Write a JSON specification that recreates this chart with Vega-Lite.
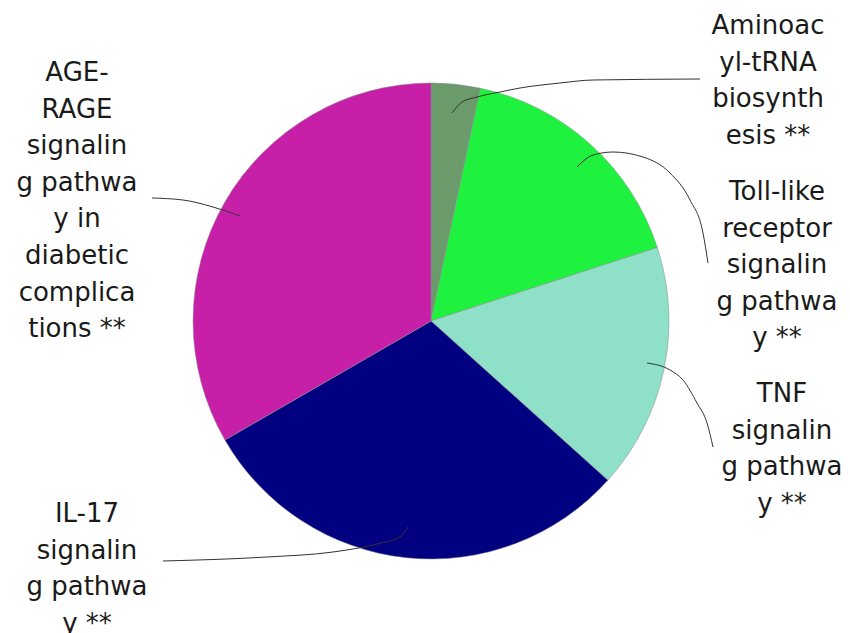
{
  "$schema": "https://vega.github.io/schema/vega-lite/v6.json",
  "width": 838,
  "height": 624,
  "padding": {"left": 12, "top": 9, "right": 0, "bottom": 0},
  "autosize": {"type": "none"},
  "background": "white",
  "config": {"view": {"stroke": null}},
  "datasets": {
    "slices": [
      {"pathway": "Aminoacyl-tRNA biosynthesis", "count": 1, "order": 1},
      {"pathway": "Toll-like receptor signaling pathway", "count": 5, "order": 2},
      {"pathway": "TNF signaling pathway", "count": 5, "order": 3},
      {"pathway": "IL-17 signaling pathway", "count": 9, "order": 4},
      {"pathway": "AGE-RAGE signaling pathway in diabetic complications", "count": 10, "order": 5}
    ],
    "labels": [
      {"pathway": "Aminoacyl-tRNA biosynthesis", "label": "Aminoac\nyl-tRNA\nbiosynth\nesis **", "lx": 337, "ly": -295},
      {"pathway": "Toll-like receptor signaling pathway", "label": "Toll-like\nreceptor\nsignalin\ng pathwa\ny **", "lx": 346, "ly": -129},
      {"pathway": "TNF signaling pathway", "label": "TNF\nsignalin\ng pathwa\ny **", "lx": 351, "ly": 73},
      {"pathway": "IL-17 signaling pathway", "label": "IL-17\nsignalin\ng pathwa\ny **", "lx": -344, "ly": 193},
      {"pathway": "AGE-RAGE signaling pathway in diabetic complications", "label": "AGE-\nRAGE\nsignalin\ng pathwa\ny in\ndiabetic\ncomplica\ntions **", "lx": -354, "ly": -248}
    ],
    "leaders": [
      {"pathway": "AGE-RAGE", "step": 1, "px": -279, "py": -123},
      {"pathway": "AGE-RAGE", "step": 2, "px": -248, "py": -121},
      {"pathway": "AGE-RAGE", "step": 3, "px": -218, "py": -114},
      {"pathway": "AGE-RAGE", "step": 4, "px": -191, "py": -105},
      {"pathway": "Aminoacyl", "step": 1, "px": 21, "py": -208},
      {"pathway": "Aminoacyl", "step": 2, "px": 31, "py": -219},
      {"pathway": "Aminoacyl", "step": 3, "px": 46, "py": -224},
      {"pathway": "Aminoacyl", "step": 4, "px": 69, "py": -229},
      {"pathway": "Aminoacyl", "step": 5, "px": 89, "py": -233},
      {"pathway": "Aminoacyl", "step": 6, "px": 129, "py": -238},
      {"pathway": "Aminoacyl", "step": 7, "px": 162, "py": -241},
      {"pathway": "Aminoacyl", "step": 8, "px": 269, "py": -242},
      {"pathway": "Toll", "step": 1, "px": 146, "py": -154},
      {"pathway": "Toll", "step": 2, "px": 162, "py": -166},
      {"pathway": "Toll", "step": 3, "px": 182, "py": -169},
      {"pathway": "Toll", "step": 4, "px": 212, "py": -164},
      {"pathway": "Toll", "step": 5, "px": 239, "py": -148},
      {"pathway": "Toll", "step": 6, "px": 259, "py": -121},
      {"pathway": "Toll", "step": 7, "px": 272, "py": -88},
      {"pathway": "Toll", "step": 8, "px": 277, "py": -58},
      {"pathway": "TNF", "step": 1, "px": 216, "py": 42},
      {"pathway": "TNF", "step": 2, "px": 239, "py": 49},
      {"pathway": "TNF", "step": 3, "px": 252, "py": 59},
      {"pathway": "TNF", "step": 4, "px": 266, "py": 82},
      {"pathway": "TNF", "step": 5, "px": 276, "py": 102},
      {"pathway": "TNF", "step": 6, "px": 282, "py": 126},
      {"pathway": "IL-17", "step": 1, "px": -268, "py": 240},
      {"pathway": "IL-17", "step": 2, "px": -164, "py": 236},
      {"pathway": "IL-17", "step": 3, "px": -98, "py": 231},
      {"pathway": "IL-17", "step": 4, "px": -54, "py": 223},
      {"pathway": "IL-17", "step": 5, "px": -31, "py": 216},
      {"pathway": "IL-17", "step": 6, "px": -23, "py": 206}
    ]
  },
  "layer": [
    {
      "data": {"name": "slices"},
      "mark": {"type": "arc", "outerRadius": 238, "stroke": "#8a8a8a", "strokeWidth": 0.5},
      "encoding": {
        "theta": {"field": "count", "type": "quantitative", "stack": true},
        "order": {"field": "order", "type": "quantitative"},
        "color": {
          "field": "pathway",
          "type": "nominal",
          "scale": {
            "domain": ["Aminoacyl-tRNA biosynthesis", "Toll-like receptor signaling pathway", "TNF signaling pathway", "IL-17 signaling pathway", "AGE-RAGE signaling pathway in diabetic complications"],
            "range": ["#6b9b6b", "#1ff23e", "#8ee0c9", "#000080", "#c71fa8"]
          },
          "legend": null
        }
      }
    },
    {
      "data": {"name": "leaders"},
      "mark": {"type": "line", "interpolate": "monotone", "color": "#333333", "strokeWidth": 1},
      "encoding": {
        "x": {"field": "px", "type": "quantitative", "scale": {"domain": [-419, 419], "nice": false, "zero": false}, "axis": null},
        "y": {"field": "py", "type": "quantitative", "scale": {"domain": [-312, 312], "nice": false, "zero": false, "reverse": true}, "axis": null},
        "detail": {"field": "pathway", "type": "nominal"},
        "order": {"field": "step", "type": "quantitative"}
      }
    },
    {
      "data": {"name": "labels"},
      "mark": {"type": "text", "font": "DejaVu Sans", "fontSize": 26, "lineHeight": 36.6, "align": "center", "baseline": "middle", "color": "#1a1a1a", "lineBreak": "\n"},
      "encoding": {
        "x": {"field": "lx", "type": "quantitative", "scale": {"domain": [-419, 419], "nice": false, "zero": false}, "axis": null},
        "y": {"field": "ly", "type": "quantitative", "scale": {"domain": [-312, 312], "nice": false, "zero": false, "reverse": true}, "axis": null},
        "text": {"field": "label", "type": "nominal"}
      }
    }
  ]
}
